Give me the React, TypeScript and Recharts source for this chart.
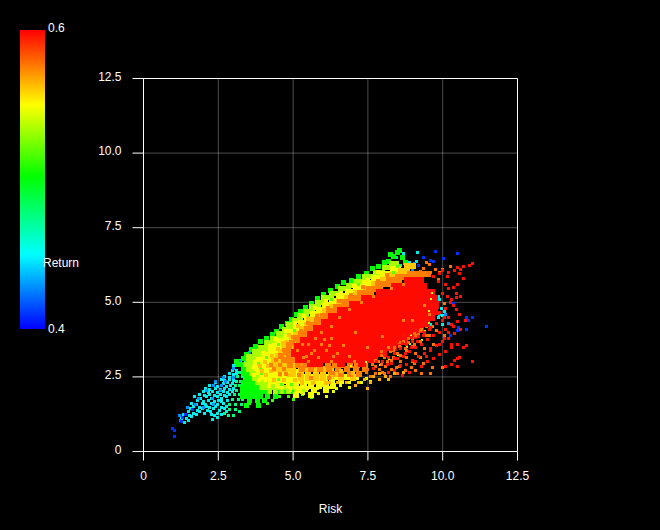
import React from "react";
import { ScatterChart, Scatter, XAxis, YAxis, CartesianGrid, ReferenceLine } from "recharts";

const axisTicks = [0, 2.5, 5, 7.5, 10, 12.5];
const tickLabels = ["0", "2.5", "5.0", "7.5", "10.0", "12.5"];

// Each row: [y, x, x, x ...]
const blueRows = [
  [0.5, 1.03], [0.72, 1.03], [0.78, 0.97], [1.0, 1.28], [1.15, 1.3], [1.25, 1.4], [1.4, 1.65],
  [6.7, 9.76], [6.65, 10.5], [6.47, 10.03], [6.5, 9.35], [6.4, 9.6], [6.37, 9.7], [6.25, 9.2],
  [4.5, 10.8, 11.0], [4.4, 10.85], [4.2, 11.45], [4.15, 10.53], [3.9, 10.27], [4.1, 10.8], [4.95, 10.35], [4.05, 10.5],
];
const azureRows = [
  [1.22, 1.2], [1.05, 1.25], [1.47, 1.48, 2.02], [1.58, 1.73, 2.33], [1.76, 1.85, 2.31], [2.06, 2.1, 2.58], [2.33, 2.42, 2.75],
  [2.47, 2.66, 3.0], [2.21, 2.35, 2.6], [2.78, 3.02], [3.1, 3.3], [3.32, 3.55], [3.5, 3.8], [3.0, 3.2], [3.4, 3.65],
  [6.3, 9.05], [6.1, 9.0], [4.6, 10.1], [4.3, 10.2],
];
const cyanRows = [
  [0.98, 1.37], [1.04, 1.52], [1.12, 1.28, 1.43], [1.17, 1.62], [1.23, 1.35, 1.78, 2.26], [1.19, 1.55, 2.37], [1.34, 1.5, 1.87, 2.23], [1.28, 1.66, 2.03, 2.47],
  [1.43, 1.57, 1.96, 2.33, 2.72], [1.38, 1.82, 2.15, 2.55], [1.52, 1.68, 2.1, 2.42, 2.77], [1.48, 1.86, 2.21, 2.62], [1.62, 1.6, 1.97, 2.27, 2.66], [1.58, 1.76, 2.06, 2.46],
  [1.72, 1.82, 2.16, 2.52, 2.81], [1.67, 2.0, 2.36, 2.62], [1.83, 1.7, 2.11, 2.47, 2.76], [1.77, 1.92, 2.26, 2.61], [1.92, 1.86, 2.21, 2.56, 2.86], [1.88, 2.05, 2.36, 2.71],
  [2.02, 2.01, 2.31, 2.66, 2.96], [1.97, 2.16, 2.46, 2.81], [2.12, 2.06, 2.41, 2.71, 3.01], [2.07, 2.22, 2.56, 2.86], [2.22, 2.21, 2.61, 2.91], [2.17, 2.46, 2.76],
  [2.32, 2.41, 2.81], [2.27, 2.66, 2.96], [2.42, 2.61, 2.86], [2.37, 2.71, 3.01], [2.52, 2.71, 3.01], [2.47, 2.86], [2.62, 2.86, 3.11], [2.57, 3.01], [2.72, 2.96, 3.12], [2.87, 3.01, 3.16, 3.26],
  [3.05, 3.25, 3.4], [3.25, 3.5], [3.45, 3.7], [1.15, 2.48], [1.08, 2.32], [1.25, 2.62], [1.33, 2.76],
  [6.67, 9.15], [6.63, 8.7], [6.37, 9.12], [6.33, 8.9],
  [4.55, 9.5, 10.0], [4.6, 9.7, 9.9], [4.5, 9.85], [4.25, 10.0, 9.6], [4.3, 9.8], [4.8, 9.95], [4.4, 9.4], [5.1, 9.9], [5.2, 9.85], [4.7, 10.05],
];
const springRows = [
  [1.27, 2.7], [1.42, 2.87, 3.08], [1.2, 2.85, 3.0], [1.33, 3.22], [1.57, 2.87, 3.06, 3.27], [1.73, 2.96, 3.17, 3.32], [1.9, 3.05, 3.22],
  [2.05, 3.1, 3.26], [2.2, 3.06, 3.2], [2.35, 3.12, 3.25], [2.5, 3.15, 3.3], [2.65, 3.2],
  [6.5, 8.45], [6.25, 8.6],
];
const greenRows = [
  [1.55, 3.45, 3.85], [1.7, 3.55, 3.8, 4.05], [1.85, 3.3, 3.45, 3.6, 3.75, 3.9, 4.15, 4.4], [2.0, 3.3, 3.45, 3.6, 3.75, 3.9, 4.05, 4.55, 4.7, 5.0],
  [2.15, 3.3, 3.45, 3.6, 3.75, 3.9], [2.3, 3.35, 3.5, 3.65, 3.75], [2.45, 3.4, 3.55, 3.65], [2.6, 3.35, 3.45, 3.55], [2.75, 3.35, 3.45], [2.9, 3.15, 3.3],
  [3.0, 3.1], [3.12, 3.35], [3.25, 3.45], [3.42, 3.6], [3.52, 3.75], [3.68, 3.9], [3.78, 4.1], [3.93, 4.3], [4.02, 4.45], [4.18, 4.6], [4.28, 4.8], [4.42, 4.95],
  [4.58, 5.1], [4.68, 5.25], [4.83, 5.4], [4.95, 5.6], [5.12, 5.8], [5.27, 6.0], [5.38, 6.25], [5.52, 6.5], [5.68, 6.7], [5.72, 6.95],
  [5.88, 7.2], [5.95, 7.45], [6.14, 7.65], [6.2, 7.85], [6.34, 8.05], [6.38, 8.2], [6.55, 8.35], [6.68, 8.5], [6.72, 8.55], [6.5, 8.65], [6.6, 8.25], [6.35, 8.75],
];
const limeRows = [
  [2.0, 4.2, 4.4, 4.6, 4.85, 5.1, 5.3], [2.15, 3.95, 4.1, 4.25, 4.4, 4.55, 4.7, 4.85, 5.0], [2.3, 3.8, 3.95, 4.1, 4.25, 4.4, 4.55], [2.45, 3.7, 3.85, 4.0, 4.15],
  [2.6, 3.6, 3.75, 3.9], [2.75, 3.5, 3.65, 3.8], [2.9, 3.4, 3.55, 3.7], [3.05, 3.5, 3.6, 3.75, 3.9], [3.2, 3.5, 3.6, 3.75, 3.9, 4.05], [3.35, 3.7, 3.8, 3.9, 4.05, 4.2],
  [3.5, 3.9, 4.05, 4.2, 4.35], [3.65, 4.1, 4.25, 4.4], [3.8, 4.3, 4.45, 4.6], [3.95, 4.5, 4.65, 4.8], [4.1, 4.7, 4.85, 5.0], [4.25, 4.85, 4.95, 5.05],
  [4.4, 5.05, 5.15, 5.25], [4.55, 5.2, 5.3, 5.45], [4.7, 5.4, 5.5, 5.65], [4.85, 5.6, 5.7, 5.85], [5.0, 5.8, 5.9, 6.05], [5.15, 6.0, 6.1, 6.3],
  [5.3, 6.3, 6.4, 6.55], [5.45, 6.6, 6.7, 6.85], [5.55, 6.85, 6.95, 7.1], [5.7, 7.1, 7.25, 7.4], [5.85, 7.4, 7.55, 7.7], [6.0, 7.75, 7.85, 8.0], [6.15, 8.05, 8.15, 8.3], [6.3, 8.3, 8.45], [6.05, 8.75],
];
const yellowRows = [
  [1.9, 5.1, 5.6], [2.05, 5.2, 5.7, 6.1], [2.2, 4.6, 4.85, 5.1, 5.35, 5.6, 5.85, 6.1, 6.35],
  [2.35, 4.25, 4.45, 4.65, 4.85, 5.05, 5.25, 5.45, 5.65, 5.85, 6.05, 6.3, 6.6],
  [2.5, 3.95, 4.1, 4.3, 4.5, 4.7, 4.9, 5.1, 5.3, 5.5, 5.7, 5.9, 6.1, 6.45, 6.8, 7.1],
  [2.65, 3.85, 4.0, 4.2, 4.4, 4.6, 4.8, 5.0, 5.2], [2.8, 3.8, 4.0, 4.2, 4.4, 4.6, 4.8], [2.95, 3.75, 3.95, 4.15, 4.35, 4.55],
  [3.1, 3.95, 4.1, 4.3, 4.5], [3.25, 4.1, 4.25, 4.45], [3.4, 4.25, 4.4, 4.55], [3.55, 4.4, 4.55, 4.7], [3.7, 4.5, 4.65, 4.8], [3.85, 4.75, 4.9],
  [4.0, 4.9, 5.05], [4.15, 5.1, 5.25], [4.3, 5.25, 5.4], [4.45, 5.45, 5.6], [4.6, 5.65, 5.8], [4.75, 5.85, 6.0], [4.9, 6.05, 6.25], [5.05, 6.3, 6.5],
  [5.2, 6.55, 6.75], [5.35, 6.85, 7.0], [5.5, 7.1, 7.3], [5.65, 7.4, 7.6], [5.8, 7.7, 7.9], [5.95, 8.0, 8.2], [6.1, 8.35, 8.5],
];
const amberRows = [
  [2.45, 5.25, 5.5, 5.75, 6.0, 6.6, 7.0], [2.6, 5.0, 5.25, 5.5, 5.75, 6.0, 6.25, 6.5], [2.75, 4.4, 4.6, 4.8, 5.0, 5.25, 5.5, 5.75, 6.0, 6.25],
  [2.9, 4.3, 4.5, 4.7, 4.9, 5.1, 5.35], [3.05, 4.35, 4.55, 4.75, 5.0], [3.2, 4.5, 4.7, 4.9], [3.35, 4.6, 4.8, 5.0], [3.5, 4.7, 4.9, 5.05],
  [3.65, 4.8, 5.0, 5.2], [3.8, 4.95, 5.1, 5.3], [3.95, 5.1, 5.25, 5.45], [4.1, 5.3, 5.5, 5.65], [4.25, 5.45, 5.6, 5.8], [4.4, 5.65, 5.8, 6.0],
  [4.55, 5.85, 6.0, 6.15], [4.7, 6.05, 6.25, 6.4], [4.85, 6.3, 6.5, 6.65], [5.0, 6.55, 6.75, 6.9], [5.15, 6.8, 7.0, 7.15], [5.3, 7.1, 7.3, 7.45],
  [5.45, 7.4, 7.6, 7.75], [5.6, 7.7, 7.9, 8.05], [5.75, 8.0, 8.2, 8.35], [5.9, 8.3, 8.5, 8.65], [6.05, 8.6, 8.8], [6.2, 9.0, 8.8],
];
const orangeRows = [
  [2.6, 6.3, 6.6, 6.9, 7.2], [2.75, 5.3, 5.6, 5.9, 6.2, 6.5, 6.8, 7.1, 7.4], [2.9, 4.9, 5.15, 5.4, 5.65, 5.9, 6.15, 6.4, 6.65, 6.9, 7.15, 7.4],
  [3.05, 4.7, 4.9, 5.1, 5.3, 5.5, 5.7, 5.95, 6.2, 6.45, 7.7], [3.2, 4.6, 4.85, 5.05, 5.25, 5.45, 5.7, 6.0], [3.35, 4.75, 4.95, 5.2], [3.5, 4.85, 5.1],
  [3.65, 4.95, 5.2], [3.8, 5.1, 5.3], [3.95, 5.25, 5.45, 5.6], [4.1, 5.45, 5.65, 5.8], [4.25, 5.6, 5.8, 6.0], [4.4, 5.8, 6.0, 6.2],
  [4.55, 6.0, 6.2, 6.4], [4.7, 6.2, 6.4, 6.6], [4.85, 6.45, 6.65, 6.85], [5.0, 6.7, 6.9, 7.05], [5.15, 6.95, 7.15, 7.35], [5.3, 7.25, 7.45, 7.6],
  [5.45, 7.55, 7.75, 7.9], [5.6, 7.85, 8.05, 8.2], [5.75, 8.2, 8.4, 8.55], [5.85, 8.5, 8.7, 8.9, 9.1], [5.95, 8.9, 9.1, 9.3, 9.5],
];
const redCoreRows = [
  [2.95, 5.6, 5.85, 6.6, 7.3],
  [3.1, 5.2, 5.45, 5.7, 5.95, 6.2, 6.45, 6.7, 6.95, 7.2, 7.45, 7.7],
  [3.3, 5.05, 5.3, 5.5, 5.75, 6.0, 6.25, 6.45, 6.7, 6.9, 7.15, 7.35, 7.6, 7.8, 8.0],
  [3.5, 5.15, 5.4, 5.65, 5.85, 6.1, 6.3, 6.55, 6.75, 7.0, 7.2, 7.45, 7.65, 7.9, 8.1, 8.35],
  [3.7, 5.35, 5.6, 5.8, 6.05, 6.25, 6.5, 6.7, 6.95, 7.15, 7.4, 7.6, 7.85, 8.05, 8.3, 8.5, 8.7],
  [3.9, 5.6, 5.85, 6.1, 6.35, 6.55, 6.8, 7.0, 7.25, 7.45, 7.7, 7.9, 8.15, 8.35, 8.6, 8.8, 9.0],
  [4.1, 5.8, 6.0, 6.2, 6.4, 6.6, 6.85, 7.05, 7.3, 7.5, 7.75, 7.95, 8.2, 8.4, 8.65, 8.85, 9.1, 9.25],
  [4.3, 6.05, 6.25, 6.45, 6.65, 6.85, 7.05, 7.3, 7.5, 7.75, 7.95, 8.2, 8.4, 8.65, 8.85, 9.1, 9.3, 9.45],
  [4.5, 6.3, 6.5, 6.7, 6.9, 7.1, 7.35, 7.55, 7.8, 8.0, 8.25, 8.45, 8.7, 8.9, 9.15, 9.35, 9.6],
  [4.7, 6.6, 6.8, 7.0, 7.2, 7.45, 7.65, 7.9, 8.1, 8.35, 8.55, 8.8, 9.0, 9.25, 9.45, 9.7],
  [4.9, 7.0, 7.25, 7.5, 7.75, 7.95, 8.2, 8.4, 8.65, 8.85, 9.1, 9.3, 9.55, 9.75],
  [5.1, 7.4, 7.65, 7.9, 8.1, 8.35, 8.55, 8.8, 9.0, 9.25, 9.45, 9.7],
  [5.3, 7.9, 8.1, 8.3, 8.5, 8.75, 8.95, 9.2, 9.4, 9.6],
  [5.5, 8.4, 8.6, 8.8, 9.0, 9.2, 9.35],
  [5.7, 8.85, 9.05, 9.25],
];
// Mottled patches where neighbouring colours mix in the picture
const mottleGreenRows = [
  [2.4, 4.05, 4.5], [2.62, 3.95], [2.25, 4.6, 4.95], [2.78, 3.92], [2.95, 3.85], [3.15, 4.1], [3.6, 4.5], [4.05, 5.05], [4.5, 5.5], [5.1, 6.3], [5.6, 7.2], [6.2, 8.5], [6.0, 8.35],
];
const mottleYellowRows = [
  [2.2, 4.2, 4.45, 5.3], [2.38, 3.85, 4.05], [2.58, 3.7], [2.82, 3.68], [3.1, 3.78], [3.3, 3.98], [3.55, 4.22], [3.78, 4.42], [4.05, 4.75], [4.3, 5.05],
  [4.55, 5.35], [4.8, 5.72], [5.05, 6.1], [5.3, 6.6], [5.55, 7.05], [5.75, 7.5], [6.0, 7.85], [2.12, 5.15, 5.45],
];
const mottleAmberRows = [
  [2.4, 4.35, 4.7, 5.05], [2.55, 4.1, 4.55, 4.85], [2.7, 3.95, 4.25], [2.85, 3.9, 4.15], [3.0, 4.05], [3.2, 4.3], [3.45, 4.5], [3.65, 4.65], [3.9, 4.85], [4.2, 5.15], [4.45, 5.5],
  [2.3, 5.3, 5.65, 6.1], [2.48, 6.3], [2.62, 7.0], [2.7, 6.6],
];
const mottleOrangeRows = [
  [2.6, 4.55, 4.75], [2.75, 4.35, 4.7], [2.9, 4.25, 4.55], [3.08, 4.42], [3.25, 4.62], [3.4, 4.68], [3.6, 4.82], [3.85, 5.0], [4.05, 5.25], [4.3, 5.5], [4.55, 5.8], [4.8, 6.15], [2.45, 5.6, 6.2], [2.55, 5.2],
  [5.05, 6.55], [5.25, 6.95], [5.5, 7.35], [5.7, 7.85], [5.9, 8.15],
];
const speckleOrangeRows = [
  [3.2, 5.45, 6.35, 6.9], [3.4, 5.7, 6.1, 5.15], [3.6, 5.5, 5.95, 5.3], [3.8, 5.75, 6.3], [4.0, 5.95, 7.1], [3.0, 6.3, 7.05, 5.5], [3.5, 7.5, 8.2], [4.4, 8.7, 9.0], [4.9, 9.4], [3.85, 8.0],
  [3.15, 5.35, 5.85], [3.3, 5.6, 6.5], [3.55, 6.2, 6.7], [3.75, 6.05], [4.2, 6.3], [4.5, 6.55], [4.75, 6.9], [5.0, 7.3], [5.2, 7.7], [5.45, 8.3], [5.6, 8.7], [4.1, 9.3], [4.6, 9.55],
];
const speckleYellowRows = [
  [3.75, 9.3], [4.05, 9.4], [4.3, 9.55], [3.5, 8.8], [3.25, 8.5], [3.1, 8.2], [2.9, 7.9], [5.1, 9.6], [4.7, 9.55], [3.9, 8.95], [3.6, 8.9], [3.35, 8.25], [5.3, 9.65], [3.0, 7.45], [2.85, 6.95],
];
const bottomGreenRows = [
  [1.75, 4.0], [1.7, 4.3], [1.85, 4.55], [1.75, 5.0], [1.9, 5.3], [1.8, 5.6], [2.05, 5.0], [1.85, 4.85], [1.6, 3.55], [1.62, 4.15],
];
const bottomYellowRows = [
  [2.05, 4.9, 5.45], [1.95, 5.35, 5.85], [2.1, 5.8, 6.45], [2.2, 6.0, 6.6], [2.15, 6.2, 6.9], [1.85, 6.1], [2.3, 6.9, 7.3], [2.0, 6.35], [2.35, 7.6], [2.45, 7.45],
];
const bottomAmberRows = [
  [2.3, 6.2, 6.5, 6.8, 7.2, 7.6], [2.4, 7.0, 7.4, 7.9, 8.2], [2.5, 6.6, 7.7, 8.1], [2.6, 7.9, 8.4], [2.65, 8.7], [2.2, 7.1], [2.1, 7.5], [2.75, 8.3],
];
const streakOrangeRows = [
  [2.75, 7.5, 7.9, 8.3], [2.6, 7.75, 8.05, 8.5], [2.5, 7.6, 8.25], [2.85, 7.75, 8.1, 8.55], [3.0, 7.85, 8.15, 8.6, 9.0],
  [3.15, 8.05, 8.35, 8.8, 9.25], [2.95, 9.05, 9.35], [3.3, 8.5, 9.1], [3.45, 8.75, 9.4], [3.6, 9.05, 9.7], [2.7, 8.75, 9.1],
  [2.6, 9.3, 9.6], [2.8, 9.65, 10.0], [3.9, 9.45, 10.05], [4.95, 10.05], [5.75, 9.85], [6.1, 9.75, 10.0], [6.2, 10.25],
  [3.35, 7.95, 8.25], [3.5, 8.4, 8.6], [3.65, 8.55, 8.85], [3.8, 8.85, 9.0], [3.95, 9.05, 9.2], [4.2, 9.45, 9.65], [6.0, 9.5, 9.6, 9.9],
  [2.9, 7.65, 7.95], [3.05, 7.75, 8.3], [3.22, 7.95, 8.6], [3.38, 8.35, 8.8], [3.52, 8.55, 9.0], [3.7, 8.7, 9.25], [3.88, 9.1, 9.55], [4.05, 9.25, 9.8], [2.65, 7.45, 8.0], [2.8, 8.45, 8.95],
  [5.9, 9.55], [6.02, 9.25], [6.12, 9.35], [6.28, 9.55], [6.35, 9.45],
];
const streakRedRows = [
  [3.4, 8.1], [3.55, 8.3], [3.7, 8.5], [3.85, 8.7], [3.95, 8.9], [4.1, 9.1, 10.1], [4.25, 9.3, 10.3], [4.4, 9.5, 10.0], [4.55, 9.7], [4.65, 9.9], [4.8, 10.1],
  [3.0, 8.0, 9.5], [3.15, 8.2], [3.3, 8.4, 9.4], [3.45, 8.6, 9.6], [3.6, 8.8, 9.3, 10.3], [3.7, 9.0, 10.0], [3.85, 9.2], [4.0, 9.4, 9.9], [4.15, 9.6], [4.5, 10.2],
  [2.95, 8.3], [3.1, 8.5, 9.7, 10.5], [3.2, 8.7, 9.2], [3.35, 8.9, 10.1], [3.5, 9.1, 10.3], [3.75, 9.5], [3.9, 9.7], [4.35, 10.5], [3.95, 10.4],
  [2.9, 8.8, 10.3], [3.05, 9.0, 10.4], [3.55, 9.8], [3.25, 9.9], [3.8, 10.2], [4.1, 10.6], [2.85, 9.3, 10.1, 10.5],
  [3.6, 10.5], [3.15, 10.55], [3.5, 10.7], [3.55, 10.8], [3.0, 11.0], [2.65, 8.2, 8.9], [2.55, 8.65],
  [6.25, 10.9], [6.3, 11.0], [6.2, 10.7], [6.1, 10.6], [5.95, 10.55, 9.9], [5.8, 10.7], [5.6, 10.5, 10.1], [5.5, 10.35], [5.3, 10.45, 10.0],
  [5.2, 10.6, 10.15], [5.1, 10.3], [5.0, 10.25], [5.15, 10.45], [5.85, 10.15, 9.7], [6.0, 10.2], [6.05, 10.0, 10.4], [6.15, 10.5],
  [5.7, 9.85], [5.45, 10.2], [4.9, 10.35], [4.75, 10.45], [4.6, 10.55], [4.4, 10.75],
  [3.02, 7.8], [3.22, 8.1], [3.42, 8.3], [3.62, 8.65], [3.82, 8.95], [4.02, 9.15], [4.22, 9.45], [4.42, 9.7], [4.62, 9.85],
  [2.78, 7.7], [2.92, 8.15], [3.12, 8.4], [3.28, 8.75], [3.48, 8.95], [3.68, 9.15], [3.88, 9.35], [4.08, 9.55], [4.28, 9.8], [4.48, 10.05],
  [2.72, 8.4], [2.88, 8.6], [3.02, 9.1], [3.18, 9.45], [3.38, 9.6], [3.58, 9.9], [3.78, 10.05], [3.98, 10.2], [4.18, 10.35],
];

const rowsToPoints = (rows: number[][]) =>
  rows.flatMap((row) => row.slice(1).map((x) => ({ x, y: row[0] })));

const layers: { rows: number[][]; color: string; size: number }[] = [
  { rows: bottomGreenRows, color: "#40ff00", size: 3 },
  { rows: cyanRows, color: "#00eeee", size: 3 },
  { rows: azureRows, color: "#0090ff", size: 3 },
  { rows: blueRows, color: "#0030ff", size: 3 },
  { rows: springRows, color: "#00ff80", size: 3 },
  { rows: greenRows, color: "#00ff00", size: 5 },
  { rows: limeRows, color: "#a8ff00", size: 5 },
  { rows: bottomYellowRows, color: "#e8ff00", size: 3 },
  { rows: yellowRows, color: "#f4ff00", size: 6 },
  { rows: bottomAmberRows, color: "#ffb000", size: 3 },
  { rows: amberRows, color: "#ffc800", size: 6 },
  { rows: orangeRows, color: "#ff8000", size: 6 },
  { rows: mottleGreenRows, color: "#60ff00", size: 3 },
  { rows: mottleYellowRows, color: "#ffff00", size: 4 },
  { rows: mottleAmberRows, color: "#ffc000", size: 4 },
  { rows: mottleOrangeRows, color: "#ff8000", size: 4 },
  { rows: redCoreRows, color: "#ff0a00", size: 8 },
  { rows: speckleOrangeRows, color: "#ff8000", size: 3 },
  { rows: speckleYellowRows, color: "#d0ff00", size: 2 },
  { rows: streakOrangeRows, color: "#ff7000", size: 3 },
  { rows: streakRedRows, color: "#ff1000", size: 3 },
];

const textStyle: React.CSSProperties = {
  position: "absolute",
  color: "#fff",
  font: "12px 'Liberation Sans', sans-serif",
  lineHeight: "14px",
};

export default function App() {
  return (
    <div style={{ position: "absolute", left: 0, top: 0, width: 660, height: 530, background: "#000", overflow: "hidden" }}>
      <style>{`body{margin:0;background:#000}`}</style>
      <div
        style={{
          position: "absolute", left: 20, top: 30, width: 25, height: 299,
          background: "linear-gradient(to bottom,#ff0000 0%,#ffff00 25%,#00ff00 49%,#00ffff 75%,#0000ff 100%)",
        }}
      />
      <div style={{ ...textStyle, left: 48, top: 21 }}>0.6</div>
      <div style={{ ...textStyle, left: 48, top: 322 }}>0.4</div>
      <div style={{ ...textStyle, left: 43, top: 256 }}>Return</div>
      <ScatterChart width={660} height={530} margin={{ top: 78.5, right: 142.5, bottom: 0, left: 0 }}>
        <CartesianGrid stroke="rgba(255,255,255,0.3)" />
        <XAxis
          type="number" dataKey="x" domain={[0, 12.5]} ticks={axisTicks} height={78.5} tickSize={9} tickMargin={11}
          stroke="#fff" tick={{ fill: "#fff", fontSize: 12, fontFamily: "Liberation Sans" }}
          tickFormatter={(v: number) => tickLabels[axisTicks.indexOf(v)]}
          label={{ value: "Risk", position: "insideBottom", offset: 17, fill: "#fff", fontSize: 12, fontFamily: "Liberation Sans" }}
          interval={0} allowDataOverflow
        />
        <YAxis
          type="number" dataKey="y" domain={[0, 12.5]} ticks={axisTicks} width={143.5} tickSize={11} tickMargin={11}
          stroke="#fff" tick={{ fill: "#fff", fontSize: 12, fontFamily: "Liberation Sans", dy: -2 }}
          tickFormatter={(v: number) => tickLabels[axisTicks.indexOf(v)]}
          interval={0} allowDataOverflow
        />
        <ReferenceLine y={12.5} stroke="#fff" />
        <ReferenceLine x={12.5} stroke="#fff" />
        {layers.map((layer, i) => (
          <Scatter
            key={i}
            data={rowsToPoints(layer.rows)}
            isAnimationActive={false}
            shape={(p: any) => (
              <rect
                x={p.cx - layer.size / 2}
                y={p.cy - layer.size / 2}
                width={layer.size}
                height={layer.size}
                fill={layer.color}
                shapeRendering="crispEdges"
              />
            )}
          />
        ))}
      </ScatterChart>
    </div>
  );
}
